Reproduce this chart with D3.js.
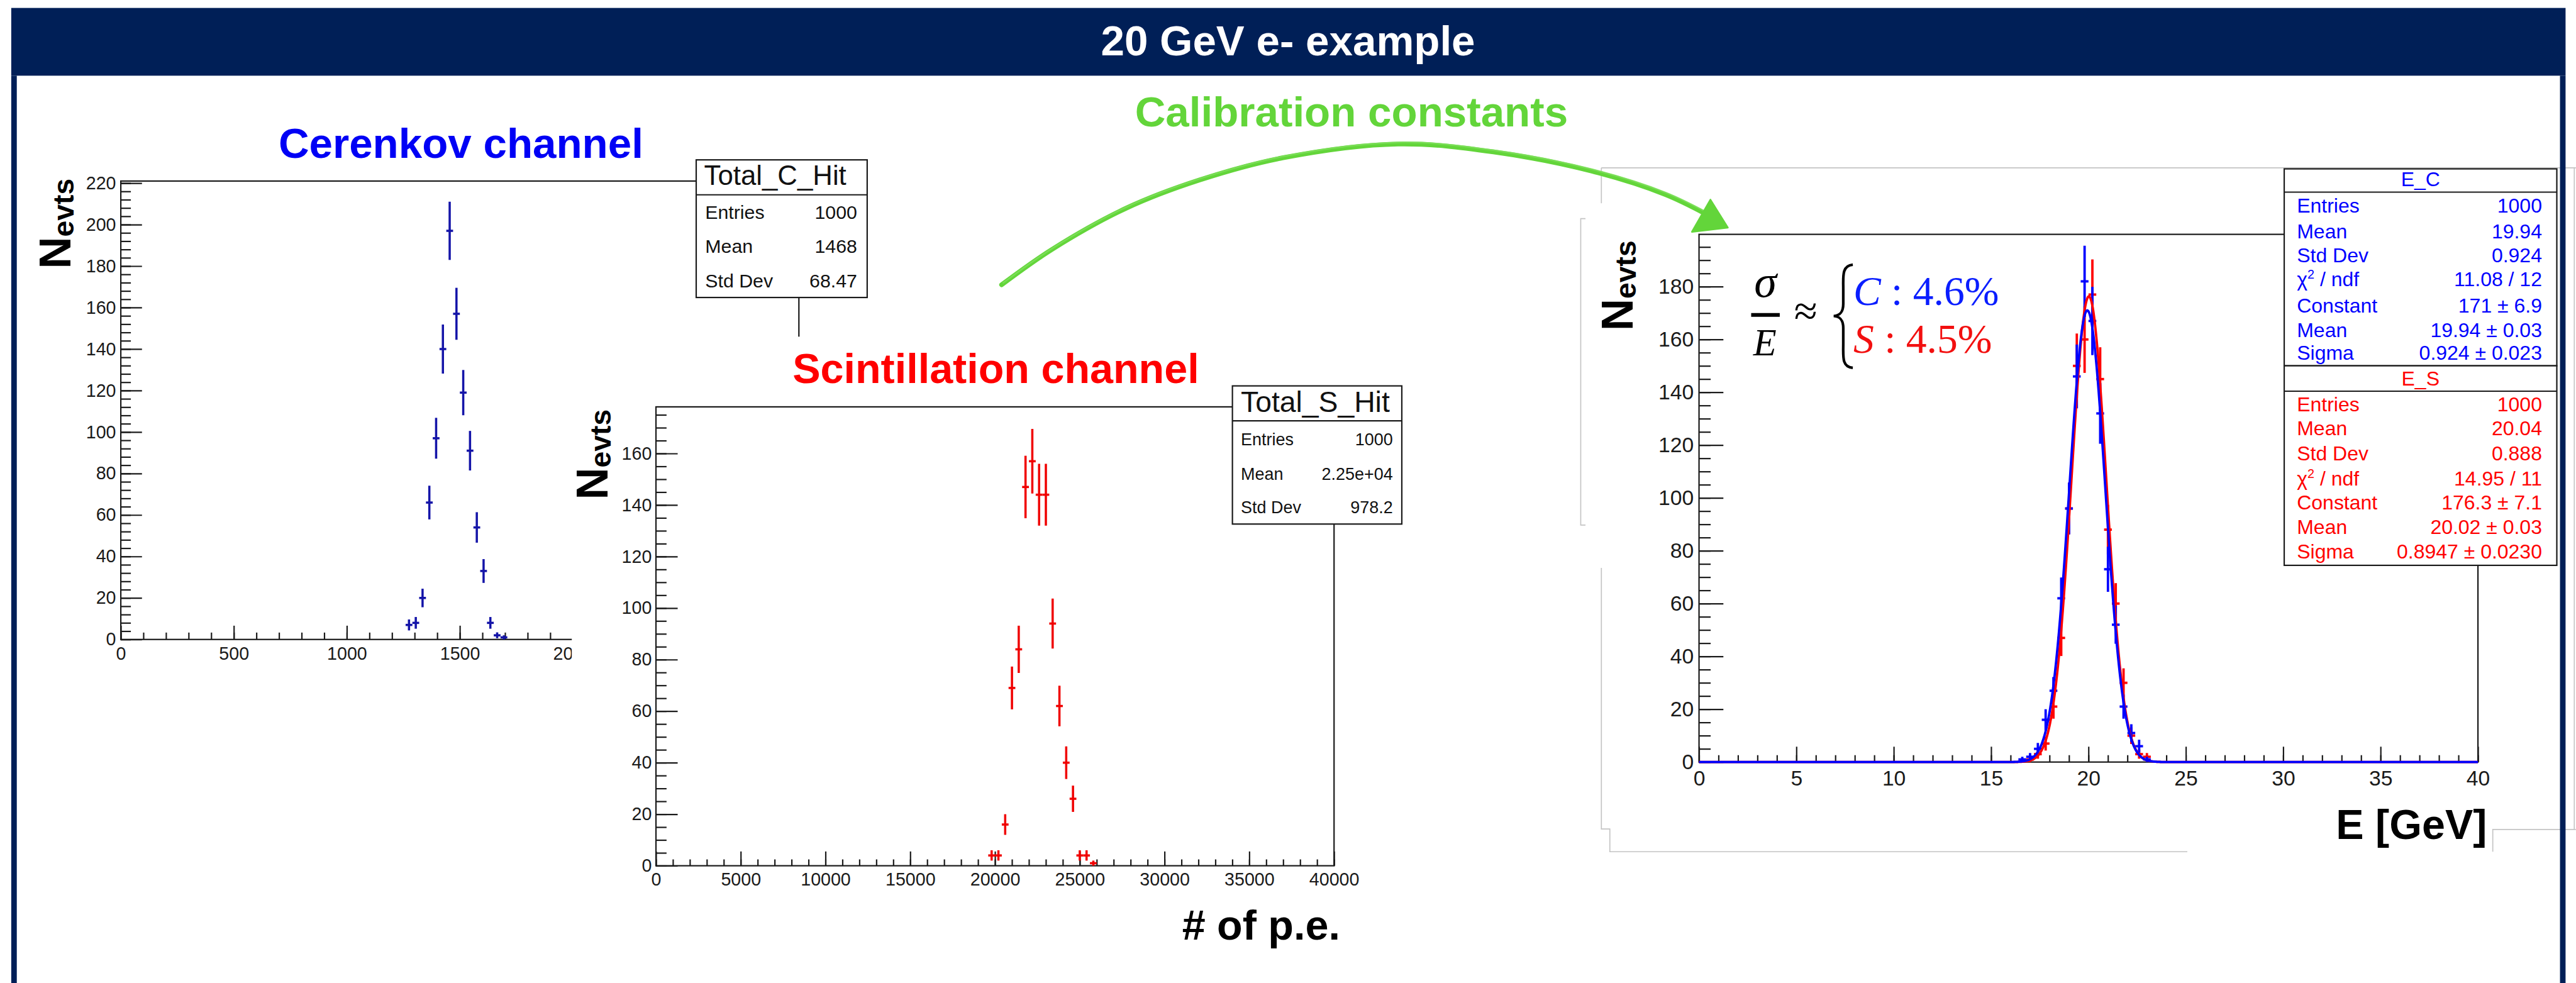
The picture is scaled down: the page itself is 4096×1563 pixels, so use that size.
<!DOCTYPE html>
<html>
<head>
<meta charset="utf-8">
<script src="https://cdn.jsdelivr.net/npm/d3@7"></script>
<style>
  html, body { margin: 0; padding: 0; background: #ffffff; overflow: hidden; }
  svg { display: block; }
</style>
</head>
<body>
<svg id="chart"></svg>
<script>
// ---------------- data ----------------
// Cerenkov channel: total photo-electron hits, 30-wide bins
const cerCenters = [1275, 1305, 1335, 1365, 1395, 1425, 1455, 1485, 1515, 1545, 1575, 1605, 1635, 1665, 1695];
const cerCounts  = [7, 8, 20, 66, 97, 140, 197, 157, 119, 91, 54, 33, 8, 2, 1];
const cerBinWidth = 30;

// Scintillation channel: total photo-electron hits, 400-wide bins
const sciCenters = [19800, 20200, 20600, 21000, 21400, 21800, 22200, 22600, 23000, 23400, 23800, 24200, 24600, 25000, 25400, 25800];
const sciCounts  = [4, 4, 16, 69, 84, 147, 157, 144, 144, 94, 62, 40, 26, 4, 4, 1];
const sciBinWidth = 400;

// Calibrated energy [GeV], 0.4-wide bins
const eCenters  = [16.6, 17.0, 17.4, 17.8, 18.2, 18.6, 19.0, 19.4, 19.8, 20.2, 20.6, 21.0, 21.4, 21.8, 22.2, 22.6, 23.0];
const eCCounts  = [1, 2, 5, 16, 27, 62, 96, 146, 182, 167, 132, 73, 52, 21, 11, 6, 1];
const eSCounts  = [0, 1, 3, 7, 21, 47, 96, 150, 160, 177, 145, 88, 60, 30, 10, 3, 2];
const eBinWidth = 0.4;

// Gaussian fit results
const fitC = { constant: 171, mean: 19.94, sigma: 0.924 };
const fitS = { constant: 176.3, mean: 20.02, sigma: 0.8947 };

// statistics boxes
const totalCStats = [["Entries", "1000"], ["Mean", "1468"], ["Std Dev", "68.47"]];
const totalSStats = [["Entries", "1000"], ["Mean", "2.25e+04"], ["Std Dev", "978.2"]];
const eCStats = [["Entries", "1000"], ["Mean", "19.94"], ["Std Dev", "0.924"], ["χ2 / ndf", "11.08 / 12"],
                 ["Constant", "171 ± 6.9"], ["Mean", "19.94 ± 0.03"], ["Sigma", "0.924 ± 0.023"]];
const eSStats = [["Entries", "1000"], ["Mean", "20.04"], ["Std Dev", "0.888"], ["χ2 / ndf", "14.95 / 11"],
                 ["Constant", "176.3 ± 7.1"], ["Mean", "20.02 ± 0.03"], ["Sigma", "0.8947 ± 0.0230"]];

// resolution summary
const resolutionC = "4.6%";
const resolutionS = "4.5%";

// tick labels
const cerXTicks = [0, 500, 1000, 1500, 2000, 2500, 3000];
const cerYTicks = [0, 20, 40, 60, 80, 100, 120, 140, 160, 180, 200, 220];
const sciXTicks = [0, 5000, 10000, 15000, 20000, 25000, 30000, 35000, 40000];
const sciYTicks = [0, 20, 40, 60, 80, 100, 120, 140, 160];
const eXTicks = [0, 5, 10, 15, 20, 25, 30, 35, 40];
const eYTicks = [0, 20, 40, 60, 80, 100, 120, 140, 160, 180];

// ---------------- layout ----------------
const W = 4866, H = 1857;
const SANS = "'Liberation Sans', Arial, Helvetica, sans-serif";
const SERIF = "'Liberation Serif', 'Times New Roman', serif";
const NAVY = "#001f57";

const svg = d3.select("#chart")
  .attr("viewBox", `0 0 ${W} ${H}`)
  .attr("width", 4096)
  .attr("height", 1563);

svg.append("rect").attr("width", W).attr("height", H).attr("fill", "#ffffff");

function txt(g, x, y, s, o = {}) {
  return g.append("text")
    .attr("x", x).attr("y", y)
    .attr("font-family", o.family || SANS)
    .attr("font-size", o.size || 36)
    .attr("font-weight", o.weight || "normal")
    .attr("font-style", o.style || "normal")
    .attr("text-anchor", o.anchor || "start")
    .attr("fill", o.fill || "#111")
    .text(s);
}

// ROOT-like inward axes with major and minor ticks
function drawAxes(g, x, y, b, c) {
  const style = sel => {
    sel.select(".domain").remove();
    sel.selectAll(".tick line").attr("stroke", "#1a1a1a").attr("stroke-width", 2.6);
    sel.selectAll("text").attr("font-family", SANS).attr("font-size", c.font).attr("fill", "#1a1a1a");
  };
  g.append("g").attr("transform", `translate(0,${b.bottom})`)
    .call(d3.axisBottom(x).tickValues(c.xMinor).tickSize(-c.xMinorLen).tickFormat("")).call(style);
  g.append("g").attr("transform", `translate(0,${b.bottom})`)
    .call(d3.axisBottom(x).tickValues(c.xTicks).tickSize(-c.xMajorLen).tickPadding(c.xPad).tickFormat(d => d)).call(style);
  g.append("g").attr("transform", `translate(${b.left},0)`)
    .call(d3.axisLeft(y).tickValues(c.yMinor).tickSize(-c.yMinorLen).tickFormat("")).call(style);
  g.append("g").attr("transform", `translate(${b.left},0)`)
    .call(d3.axisLeft(y).tickValues(c.yTicks).tickSize(-c.yMajorLen).tickPadding(c.yPad).tickFormat(d => d)).call(style);
  g.append("rect")
    .attr("x", b.left).attr("y", b.top)
    .attr("width", b.right - b.left).attr("height", b.bottom - b.top)
    .attr("fill", "none").attr("stroke", "#1a1a1a").attr("stroke-width", 2.6);
}

// histogram drawn as error-bar crosses (bin width horizontally, sqrt(N) vertically)
function drawCrosses(g, x, y, centers, counts, binWidth, color, sw) {
  const pts = centers.map((c, i) => ({ c, n: counts[i] })).filter(d => d.n > 0);
  const cg = g.append("g").attr("stroke", color).attr("stroke-width", sw);
  cg.selectAll(".h").data(pts).join("line")
    .attr("x1", d => x(d.c - binWidth / 2)).attr("x2", d => x(d.c + binWidth / 2))
    .attr("y1", d => y(d.n)).attr("y2", d => y(d.n));
  cg.selectAll(".v").data(pts).join("line")
    .attr("x1", d => x(d.c)).attr("x2", d => x(d.c))
    .attr("y1", d => y(d.n + Math.sqrt(d.n))).attr("y2", d => y(Math.max(0, d.n - Math.sqrt(d.n))));
}

function nevtsLabel(g, x, y) {
  const t = g.append("text")
    .attr("transform", `translate(${x},${y}) rotate(-90)`)
    .attr("font-family", SANS).attr("font-weight", "bold").attr("fill", "#000");
  t.append("tspan").attr("font-size", 84).text("N");
  t.append("tspan").attr("font-size", 55).attr("dy", 6).text("evts");
}

function statBox(g, b, title, rows, o) {
  g.append("rect").attr("x", b.x0).attr("y", b.y0)
    .attr("width", b.x1 - b.x0).attr("height", b.y1 - b.y0)
    .attr("fill", "#fff").attr("stroke", "#1a1a1a").attr("stroke-width", 2.6);
  g.append("line").attr("x1", b.x0).attr("x2", b.x1).attr("y1", b.sep).attr("y2", b.sep)
    .attr("stroke", "#1a1a1a").attr("stroke-width", 2.6);
  txt(g, o.titleX, o.titleY, title, { size: o.titleSize, anchor: o.titleAnchor || "start", fill: o.color });
  rows.forEach((r, i) => {
    const yy = o.rowY[i];
    if (r[0].startsWith("χ2")) {
      const t = txt(g, o.labelX, yy, "", { size: o.size, fill: o.color });
      t.append("tspan").text("χ");
      t.append("tspan").attr("font-size", o.size * 0.62).attr("dy", -o.size * 0.38).text("2");
      t.append("tspan").attr("dy", o.size * 0.38).text(" / ndf");
    } else {
      txt(g, o.labelX, yy, r[0], { size: o.size, fill: o.color });
    }
    txt(g, o.valueX, yy, r[1], { size: o.size, anchor: "end", fill: o.color });
  });
}

// ---------------- Cerenkov panel ----------------
const cerBox = { left: 228, right: 1509, top: 342, bottom: 1208 };
const cerX = d3.scaleLinear().domain([0, 3000]).range([cerBox.left, cerBox.right]);
const cerY = d3.scaleLinear().domain([0, 221]).range([cerBox.bottom, cerBox.top]);
const gCer = svg.append("g");
drawAxes(gCer, cerX, cerY, cerBox, {
  xTicks: cerXTicks, xMinor: d3.range(0, 3001, 100), xMajorLen: 26, xMinorLen: 13, xPad: 14,
  yTicks: cerYTicks, yMinor: d3.range(0, 221, 4), yMajorLen: 40, yMinorLen: 19, yPad: 9, font: 34
});
drawCrosses(gCer, cerX, cerY, cerCenters, cerCounts, cerBinWidth, "#1414a8", 4.2);
nevtsLabel(gCer, 133, 508);
statBox(gCer, { x0: 1315, x1: 1638, y0: 302, sep: 368, y1: 562 }, "Total_C_Hit", totalCStats, {
  titleX: 1330, titleY: 349, titleSize: 52, labelX: 1332, valueX: 1619,
  rowY: [413, 478, 543], size: 36, color: "#111"
});
txt(svg, 526, 298, "Cerenkov channel", { size: 80, weight: "bold", fill: "#0000f5" });

// ---------------- Scintillation panel (own white canvas on top) ----------------
const gSci = svg.append("g");
gSci.append("rect").attr("x", 1080).attr("y", 636).attr("width", 1580).attr("height", H - 636).attr("fill", "#ffffff");
const sciBox = { left: 1239, right: 2520, top: 768.6, bottom: 1635.5 };
const sciX = d3.scaleLinear().domain([0, 40000]).range([sciBox.left, sciBox.right]);
const sciY = d3.scaleLinear().domain([0, 178.1]).range([sciBox.bottom, sciBox.top]);
drawAxes(gSci, sciX, sciY, sciBox, {
  xTicks: sciXTicks, xMinor: d3.range(0, 40001, 1000), xMajorLen: 27, xMinorLen: 12, xPad: 13,
  yTicks: sciYTicks, yMinor: d3.range(0, 178, 5), yMajorLen: 41, yMinorLen: 20, yPad: 8, font: 34
});
drawCrosses(gSci, sciX, sciY, sciCenters, sciCounts, sciBinWidth, "#f00000", 4.2);
nevtsLabel(gSci, 1147, 944);
statBox(gSci, { x0: 2328, x1: 2648, y0: 729, sep: 795, y1: 990 }, "Total_S_Hit", totalSStats, {
  titleX: 2344, titleY: 778.5, titleSize: 55, labelX: 2344, valueX: 2631,
  rowY: [841, 906, 970], size: 32, color: "#111"
});
txt(svg, 1497, 723, "Scintillation channel", { size: 79, weight: "bold", fill: "#ff0000" });
txt(svg, 2233, 1775, "# of p.e.", { size: 79, weight: "bold", fill: "#000" });

// ---------------- Calibrated energy panel ----------------
const gE = svg.append("g");
// faint borders of the embedded canvas
const grayPaths = [
  "M3025,317 H4866", "M3025,317 V384", "M2995,413 H2986 V992 H2995",
  "M3025,1073 V1566 H3041 V1609 H4132", "M4866,1567 H4709 V1609", "M4863,317 V1567"
];
gE.selectAll(".edge").data(grayPaths).join("path")
  .attr("d", d => d).attr("fill", "none").attr("stroke", "#c4c4c4").attr("stroke-width", 2);

const eBox = { left: 3209.5, right: 4681, top: 442.7, bottom: 1439.6 };
const eX = d3.scaleLinear().domain([0, 40]).range([eBox.left, eBox.right]);
const eY = d3.scaleLinear().domain([0, 199.8]).range([eBox.bottom, eBox.top]);
drawAxes(gE, eX, eY, eBox, {
  xTicks: eXTicks, xMinor: d3.range(0, 40.01, 1), xMajorLen: 29, xMinorLen: 13, xPad: 16,
  yTicks: eYTicks, yMinor: d3.range(0, 199.8, 5), yMajorLen: 46, yMinorLen: 22, yPad: 10, font: 40
});
drawCrosses(gE, eX, eY, eCenters, eSCounts, eBinWidth, "#ff0000", 4.5);
drawCrosses(gE, eX, eY, eCenters, eCCounts, eBinWidth, "#0000ff", 4.5);

const gauss = f => v => f.constant * Math.exp(-0.5 * Math.pow((v - f.mean) / f.sigma, 2));
const fitGrid = d3.range(0, 40.0001, 0.02);
const fitLine = d3.line().x(d => eX(d[0])).y(d => eY(d[1]));
gE.append("path").attr("d", fitLine(fitGrid.map(v => [v, gauss(fitS)(v)])))
  .attr("fill", "none").attr("stroke", "#ff0000").attr("stroke-width", 4.5);
gE.append("path").attr("d", fitLine(fitGrid.map(v => [v, gauss(fitC)(v)])))
  .attr("fill", "none").attr("stroke", "#0000ff").attr("stroke-width", 4.5);

nevtsLabel(gE, 3084, 625);
txt(gE, 4698, 1585, "E [GeV]", { size: 79, weight: "bold", anchor: "end", fill: "#000" });

// fit statistics (C on top, S below)
statBox(gE, { x0: 4315, x1: 4830, y0: 319, sep: 363, y1: 691 }, "E_C", eCStats, {
  titleX: 4572.5, titleY: 352, titleSize: 38, titleAnchor: "middle", labelX: 4339, valueX: 4802,
  rowY: [401.7, 450, 495, 541, 590, 637, 680], size: 38, color: "#0000ff"
});
statBox(gE, { x0: 4315, x1: 4830, y0: 691, sep: 739, y1: 1068 }, "E_S", eSStats, {
  titleX: 4572.5, titleY: 728, titleSize: 38, titleAnchor: "middle", labelX: 4339, valueX: 4802,
  rowY: [776.6, 822.5, 869.6, 917, 962, 1009, 1055], size: 38, color: "#ff0000"
});

// resolution annotation: sigma/E ≈ { C : ..., S : ...
const gF = gE.append("g");
txt(gF, 3335, 561, "σ", { family: SERIF, size: 86, style: "italic", anchor: "middle", fill: "#000" });
gF.append("line").attr("x1", 3308).attr("x2", 3362).attr("y1", 595).attr("y2", 595)
  .attr("stroke", "#000").attr("stroke-width", 7);
txt(gF, 3334, 671, "E", { family: SERIF, size: 72, style: "italic", anchor: "middle", fill: "#000" });
txt(gF, 3411, 614, "≈", { family: SERIF, size: 80, anchor: "middle", fill: "#000" });
gF.append("path")
  .attr("d", "M3500,500 C3479,502 3482,522 3482,546 L3482,574 C3482,590 3476,596 3464,597 C3476,598 3482,604 3482,620 L3482,649 C3482,674 3479,693 3500,695")
  .attr("fill", "none").attr("stroke", "#000").attr("stroke-width", 5);
const lineC = txt(gF, 3501, 576, "", { family: SERIF, size: 78, fill: "#0a1eff" });
lineC.append("tspan").attr("font-style", "italic").text("C");
lineC.append("tspan").text(" : " + resolutionC);
const lineS = txt(gF, 3501, 667, "", { family: SERIF, size: 78, fill: "#f21010" });
lineS.append("tspan").attr("font-style", "italic").text("S");
lineS.append("tspan").text(" : " + resolutionS);

// ---------------- calibration arrow ----------------
const arrowPts = [[1892, 538], [1989, 470], [2128, 393], [2266, 340], [2424, 298], [2641, 272],
                  [2821, 287], [3006, 323], [3145, 367], [3222, 404]];
const arrowHead = [[3264, 430], [3231, 377], [3196, 438]];
const gA = svg.append("g");
gA.append("path").attr("d", d3.line().curve(d3.curveCatmullRom)(arrowPts))
  .attr("fill", "none").attr("stroke", "#63d53a").attr("stroke-width", 9).attr("stroke-linecap", "round");
gA.append("path").attr("d", d3.line().curve(d3.curveCatmullRom)(arrowPts.map(p => [p[0] + 2, p[1] - 3])))
  .attr("fill", "none").attr("stroke", "#7ee05c").attr("stroke-width", 3).attr("opacity", 0.8);
gA.append("path").attr("d", d3.line()(arrowHead) + "Z").attr("fill", "#63d53a").attr("stroke", "#63d53a")
  .attr("stroke-width", 3).attr("stroke-linejoin", "round");
txt(svg, 2144, 239, "Calibration constants", { size: 80, weight: "bold", fill: "#63d53a" });

// ---------------- slide frame and title ----------------
svg.append("rect").attr("x", 21).attr("y", 15).attr("width", 4825.5).attr("height", 128).attr("fill", NAVY);
svg.append("rect").attr("x", 21).attr("y", 143).attr("width", 10.5).attr("height", H - 143).attr("fill", NAVY);
svg.append("rect").attr("x", 4836).attr("y", 143).attr("width", 10.5).attr("height", H - 143).attr("fill", NAVY);
txt(svg, 2433, 105, "20 GeV e- example", { size: 80, weight: "bold", anchor: "middle", fill: "#ffffff" });
</script>
</body>
</html>
